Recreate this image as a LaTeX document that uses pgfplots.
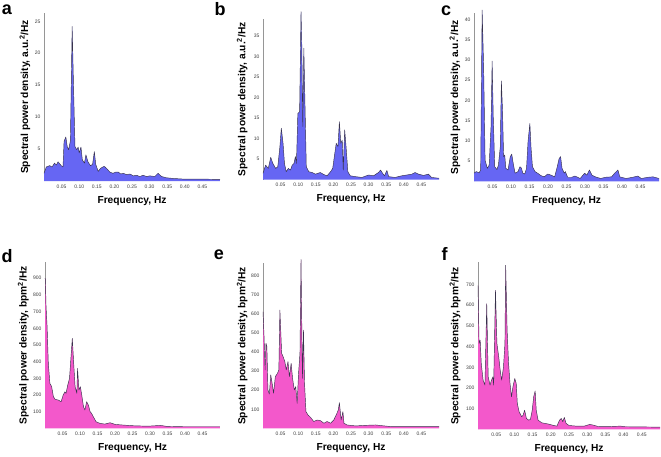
\documentclass[border=0pt]{standalone}
\usepackage{pgfplots}
\pgfplotsset{compat=1.18}
\usepackage{pgfplotstable}
\usepackage{fontspec}
\setmainfont{Liberation Sans}
\setsansfont{Liberation Sans}
\definecolor{bluefill}{RGB}{102,102,243}
\definecolor{pinkfill}{RGB}{243,88,203}
\definecolor{edge}{RGB}{55,50,75}
\definecolor{axgray}{RGB}{150,150,150}
\definecolor{tickgray}{RGB}{60,60,60}

\pgfplotstableread{
f v
0 1.2
0.0066 2.2
0.016 2.4
0.023 2.2
0.030 2.8
0.035 2.5
0.040 3.0
0.049 2.4
0.054 2.2
0.057 6.2
0.062 6.9
0.066 5.4
0.070 4.9
0.075 6.3
0.080 24.2
0.084 14.5
0.088 5.4
0.093 4.9
0.097 5.3
0.100 4.4
0.105 5.3
0.109 3.3
0.115 2.8
0.119 4.1
0.125 3.0
0.132 2.4
0.138 2.6
0.143 4.6
0.147 2.6
0.154 1.5
0.161 2.0
0.171 2.3
0.179 1.9
0.187 1.4
0.196 1.2
0.204 1.4
0.211 1.4
0.218 1.1
0.225 1.2
0.235 1.0
0.244 1.1
0.254 0.8
0.263 0.9
0.272 0.7
0.282 0.9
0.291 0.7
0.301 0.8
0.315 0.7
0.324 1.2
0.334 0.7
0.348 0.5
0.367 0.4
0.396 0.3
0.443 0.3
0.5 0.25
}\dataA

\pgfplotstableread{
f v
0 1.5
0.0075 3.5
0.015 2.7
0.022 5.4
0.028 3.9
0.036 2.7
0.042 3.1
0.048 8.0
0.052 12.5
0.057 8.8
0.061 3.9
0.066 1.9
0.072 2.7
0.078 2.3
0.083 3.5
0.088 3.9
0.092 5.6
0.095 3.9
0.099 16.1
0.104 16.5
0.108 40.9
0.110 34.0
0.113 12.9
0.116 32.0
0.119 19.4
0.123 3.1
0.130 1.9
0.140 1.7
0.149 1.3
0.163 1.7
0.173 1.2
0.182 0.9
0.192 1.9
0.198 2.7
0.204 6.4
0.208 8.8
0.213 8.0
0.217 14.1
0.221 8.8
0.225 9.6
0.228 2.3
0.232 12.1
0.236 8.0
0.241 1.9
0.248 0.9
0.262 0.7
0.281 0.5
0.300 1.1
0.314 0.9
0.328 1.7
0.334 2.3
0.340 1.5
0.345 0.9
0.352 2.2
0.357 0.7
0.375 0.5
0.394 0.9
0.423 1.3
0.432 1.7
0.442 1.3
0.456 1.0
0.470 1.3
0.479 0.5
0.5 0.3
}\dataB

\pgfplotstableread{
f v
0 2.0
0.006 2.4
0.014 2.1
0.018 2.8
0.022 42.3
0.026 28.3
0.030 5.2
0.036 3.2
0.041 4.0
0.046 13.5
0.049 29.7
0.052 16.0
0.056 3.6
0.062 2.9
0.066 4.0
0.071 8.5
0.074 24.8
0.077 17.6
0.080 6.1
0.083 6.5
0.086 3.2
0.092 2.8
0.098 6.1
0.102 6.7
0.106 4.4
0.111 2.0
0.119 2.4
0.124 3.6
0.128 3.3
0.132 2.0
0.137 1.8
0.142 3.2
0.146 9.8
0.151 14.3
0.154 8.5
0.158 3.6
0.165 2.4
0.172 2.0
0.181 1.4
0.190 1.1
0.199 1.8
0.209 1.5
0.218 1.1
0.225 3.6
0.230 5.6
0.234 6.1
0.238 3.2
0.244 2.0
0.247 2.4
0.253 1.0
0.264 1.0
0.273 1.3
0.287 0.7
0.299 2.0
0.305 1.5
0.312 2.8
0.319 1.5
0.328 1.1
0.342 0.7
0.356 1.0
0.372 1.1
0.380 2.0
0.389 2.8
0.394 1.1
0.411 0.7
0.429 1.0
0.443 1.3
0.452 0.7
0.471 1.0
0.484 1.1
0.5 0.7
}\dataC

\pgfplotstableread{
f v
0 900
0.001 894
0.003 730
0.006 610
0.0095 390
0.014 270
0.019 250
0.024 190
0.029 174
0.038 170
0.046 160
0.052 200
0.057 220
0.060 210
0.065 260
0.070 300
0.073 390
0.078 540
0.082 390
0.086 250
0.091 210
0.093 360
0.097 230
0.101 250
0.105 200
0.110 130
0.114 110
0.119 160
0.124 140
0.129 100
0.133 90
0.138 70
0.146 40
0.157 30
0.171 26
0.186 34
0.200 24
0.224 20
0.252 16
0.281 14
0.300 14
0.330 18
0.348 12
0.395 10
0.443 10
0.5 10
}\dataD

\pgfplotstableread{
f v
0 611
0.003 480
0.006 306
0.0085 446
0.011 428
0.014 201
0.018 180
0.022 280
0.026 236
0.030 184
0.035 271
0.041 288
0.045 306
0.048 620
0.053 393
0.057 376
0.062 350
0.066 306
0.071 350
0.075 271
0.080 341
0.084 262
0.089 201
0.093 219
0.097 131
0.101 288
0.105 393
0.108 885
0.112 262
0.115 515
0.118 236
0.122 88
0.128 70
0.135 58
0.144 36
0.154 44
0.163 41
0.173 27
0.182 36
0.192 27
0.201 44
0.208 70
0.214 97
0.217 135
0.222 44
0.227 88
0.230 27
0.239 18
0.263 13
0.291 16
0.320 18
0.339 14
0.367 9
0.415 9
0.5 9
}\dataE

\pgfplotstableread{
f v
0 696
0.003 415
0.006 431
0.009 318
0.014 238
0.019 214
0.024 608
0.028 254
0.033 214
0.037 238
0.041 254
0.043 214
0.048 672
0.052 415
0.057 350
0.061 286
0.065 238
0.070 302
0.074 415
0.076 793
0.080 479
0.084 318
0.088 222
0.092 158
0.096 206
0.101 246
0.105 222
0.108 125
0.113 85
0.120 61
0.124 69
0.128 93
0.133 53
0.139 45
0.144 48
0.149 93
0.153 158
0.157 186
0.160 93
0.165 45
0.175 32
0.184 29
0.193 26
0.208 19
0.217 16
0.224 45
0.229 53
0.233 37
0.237 58
0.242 29
0.250 19
0.269 16
0.292 16
0.307 24
0.316 21
0.330 14
0.354 13
0.392 16
0.401 13
0.5 11
}\dataF

\pgfplotsset{
  panel/.style={
    scale only axis, clip=false, anchor=south west,
    xmin=0, xmax=0.5, ymin=0, enlargelimits=false,
    axis lines*=left,
    axis line style={-, draw=axgray, line width=0.6pt},
    x axis line style={draw=none},
    xtick={0.05,0.10,0.15,0.20,0.25,0.30,0.35,0.40,0.45},
    major tick length=0pt,
    /pgf/number format/assume math mode=true,
    tick label style={font=\fontsize{5}{5.5}\selectfont, text=tickgray},
    xticklabel style={/pgf/number format/.cd, fixed, fixed zerofill, precision=2},
    yticklabel style={/pgf/number format/.cd, fixed},
    xlabel={Frequency, Hz},
    label style={font=\fontsize{10.2}{12}\selectfont\bfseries},
    xlabel style={at={(axis description cs:0.5,0)}, anchor=center, yshift=-20pt},
  },
  fillb/.style={fill=bluefill, draw=none},
  fillp/.style={fill=pinkfill, draw=none},
  edgel/.style={draw=edge, line width=0.45pt, line join=round},
}

\begin{document}
\begin{tikzpicture}
\useasboundingbox (0,0) rectangle (661pt,456pt);

% a
\begin{axis}[panel, at={(44pt,275pt)}, width=176pt, height=168pt, ymax=26.3,
  ytick={5,10,15,20,25},
  ylabel={Spectral power density, a.u.\textsuperscript{2}/Hz},
  ylabel style={at={(axis description cs:-0.108,0.5)}, anchor=center}]
\addplot[fillb] table[x=f,y=v] {\dataA} \closedcycle;
\addplot[edgel] table[x=f,y=v] {\dataA};
\end{axis}

% b
\begin{axis}[panel, at={(263pt,276.5pt)}, width=176pt, height=160.5pt, ymax=39.1,
  ytick={5,10,15,20,25,30,35},
  ylabel={Spectral power density, a.u.\textsuperscript{2}/Hz},
  ylabel style={at={(axis description cs:-0.118,0.5)}, anchor=center}]
\addplot[fillb] table[x=f,y=v] {\dataB} \closedcycle;
\addplot[edgel] table[x=f,y=v] {\dataB};
\end{axis}

% c
\begin{axis}[panel, at={(474pt,274.7pt)}, width=185pt, height=168pt, ymax=41.5,
  ytick={5,10,15,20,25,30,35,40},
  ylabel={Spectral power density, a.u.\textsuperscript{2}/Hz},
  ylabel style={at={(axis description cs:-0.103,0.5)}, anchor=center}]
\addplot[fillb] table[x=f,y=v] {\dataC} \closedcycle;
\addplot[edgel] table[x=f,y=v] {\dataC};
\end{axis}

% d
\begin{axis}[panel, at={(45pt,27.6pt)}, width=175pt, height=166pt, ymax=995,
  ytick={100,200,300,400,500,600,700,800,900},
  ylabel={Spectral power density, bpm\textsuperscript{2}/Hz},
  ylabel style={at={(axis description cs:-0.124,0.5)}, anchor=center}]
\addplot[fillp] table[x=f,y=v] {\dataD} \closedcycle;
\addplot[edgel] table[x=f,y=v] {\dataD};
\end{axis}

% e
\begin{axis}[panel, at={(263pt,27.6pt)}, width=176pt, height=165pt, ymax=864,
  ytick={100,200,300,400,500,600,700,800},
  ylabel={Spectral power density, bpm\textsuperscript{2}/Hz},
  ylabel style={at={(axis description cs:-0.118,0.5)}, anchor=center}]
\addplot[fillp] table[x=f,y=v] {\dataE} \closedcycle;
\addplot[edgel] table[x=f,y=v] {\dataE};
\end{axis}

% f
\begin{axis}[panel, at={(478pt,26.6pt)}, width=182pt, height=167pt, ymax=807,
  ytick={100,200,300,400,500,600,700},
  ylabel={Spectral power density, bpm\textsuperscript{2}/Hz},
  ylabel style={at={(axis description cs:-0.126,0.5)}, anchor=center}]
\addplot[fillp] table[x=f,y=v] {\dataF} \closedcycle;
\addplot[edgel] table[x=f,y=v] {\dataF};
\end{axis}

\node[font=\fontsize{18}{18}\selectfont\bfseries] at (7pt,446pt) {a};
\node[font=\fontsize{18}{18}\selectfont\bfseries] at (220pt,447pt) {b};
\node[font=\fontsize{18}{18}\selectfont\bfseries] at (446pt,445pt) {c};
\node[font=\fontsize{18}{18}\selectfont\bfseries] at (7pt,200pt) {d};
\node[font=\fontsize{18}{18}\selectfont\bfseries] at (219pt,201pt) {e};
\node[font=\fontsize{18}{18}\selectfont\bfseries] at (444.5pt,202pt) {f};
\end{tikzpicture}
\end{document}
